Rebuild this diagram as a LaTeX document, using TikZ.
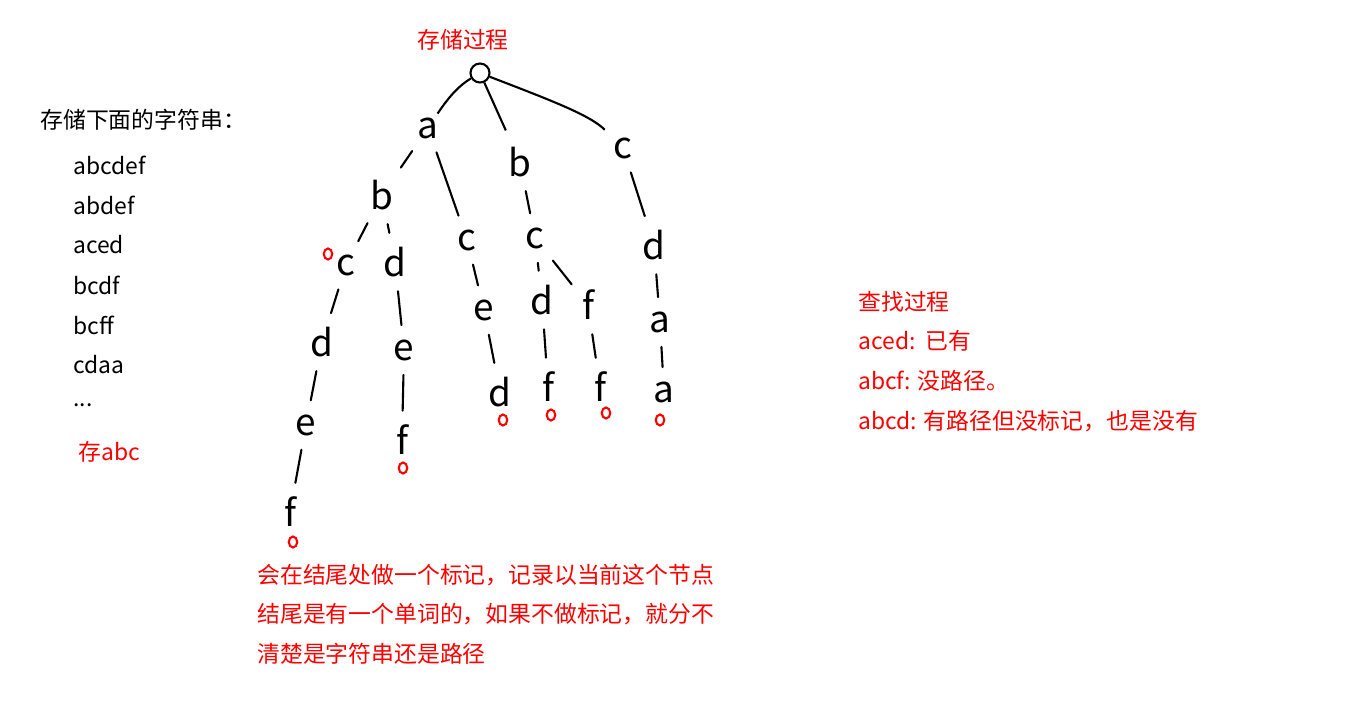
\documentclass[tikz,border=0pt]{standalone}
\usepackage{fontspec}
\setmainfont{Noto Sans CJK SC}
\usetikzlibrary{shapes.geometric}
\begin{document}
\begin{tikzpicture}[x=0.02cm, y=-0.02cm]
    \tikzstyle{ch} = [font=\fontsize{21}{21}\selectfont, inner sep=2pt]
    \tikzstyle{endmark} = [draw=red, very thick, ellipse, minimum width=0.17cm, minimum height=0.22cm, inner sep=0pt]
    \tikzstyle{txt} = [font=\fontsize{13}{15}\selectfont, anchor=west, inner sep=0pt]
    \tikzstyle{link} = [very thick, line cap=round, shorten <=6pt, shorten >=6pt]
    \useasboundingbox (0,0) rectangle (1358,702);

    % tree
    \node[draw, very thick, circle, minimum size=0.38cm, inner sep=0pt] (root) at (480,73) {};
    \node[ch] (a) at (428,128) {a};
    \node[ch] (b) at (520,162) {b};
    \node[ch] (c) at (623,148) {c};
    \node[ch] (ab) at (382,195) {b};
    \node[ch] (ac) at (467,240) {c};
    \node[ch] (bc) at (535,238) {c};
    \node[ch] (cd) at (654,245) {d};
    \node[ch] (abc) at (346,265) {c};
    \node[ch] (abd) at (395,262) {d};
    \node[ch] (ace) at (484,310) {e};
    \node[ch] (bcd) at (542,300) {d};
    \node[ch] (bcf) at (588,305) {f};
    \node[ch] (cda) at (660,322) {a};
    \node[ch] (abcd) at (322,342) {d};
    \node[ch] (abde) at (404,350) {e};
    \node[ch] (aced) at (500,392) {d};
    \node[ch] (bcdf) at (548,387) {f};
    \node[ch] (bcff) at (600,387) {f};
    \node[ch] (cdaa) at (664,392) {a};
    \node[ch] (abcde) at (306,425) {e};
    \node[ch] (abdef) at (402,440) {f};
    \node[ch] (abcdef) at (290,512) {f};

    \draw[very thick] (root) .. controls (460,85) and (450,95) .. (a);
    \draw[very thick, shorten >=8pt] (root) -- (b);
    \draw[very thick, shorten >=4pt] (root) .. controls (550,100) and (590,115) .. (c);
    \foreach \u/\v in {a/ab, a/ac, b/bc, c/cd, ab/abc, ab/abd, ac/ace, bc/bcd, bc/bcf, cd/cda,
        abc/abcd, abd/abde, ace/aced, bcd/bcdf, bcf/bcff, cda/cdaa, abcd/abcde, abde/abdef, abcde/abcdef}
        \draw[link] (\u) -- (\v);

    % end marks
    \node[endmark] (m1) at (328,254) {};
    \node[endmark] (m2) at (293,542) {};
    \node[endmark] (m3) at (403,468) {};
    \node[endmark] (m4) at (503,420) {};
    \node[endmark] (m5) at (551,415) {};
    \node[endmark] (m6) at (606,413) {};
    \node[endmark] (m7) at (660,420) {};

    % texts
    \node[txt, red] (title) at (417,40) {存储过程};
    \node[txt] (head) at (40,120) {存储下面的字符串：};
    \foreach \w [count=\i] in {abcdef, abdef, aced, bcdf, bcff, cdaa}
        \node[txt] (w\i) at (73,125+40*\i) {\w};
    \node[txt] (dots) at (73,405) {...};
    \node[txt, red] (add) at (78,452) {存abc};

    \node[txt, red] (find) at (858,302) {查找过程};
    \node[txt, red] (f1) at (858,341) {aced:\ \ 已有};
    \node[txt, red] (f2) at (858,381) {abcf: 没路径。};
    \node[txt, red] (f3) at (858,421) {abcd: 有路径但没标记，也是没有};

    \node[txt, red] (n1) at (257,575) {会在结尾处做一个标记，记录以当前这个节点};
    \node[txt, red] (n2) at (257,614) {结尾是有一个单词的，如果不做标记，就分不};
    \node[txt, red] (n3) at (257,654) {清楚是字符串还是路径};
\end{tikzpicture}
\end{document}
